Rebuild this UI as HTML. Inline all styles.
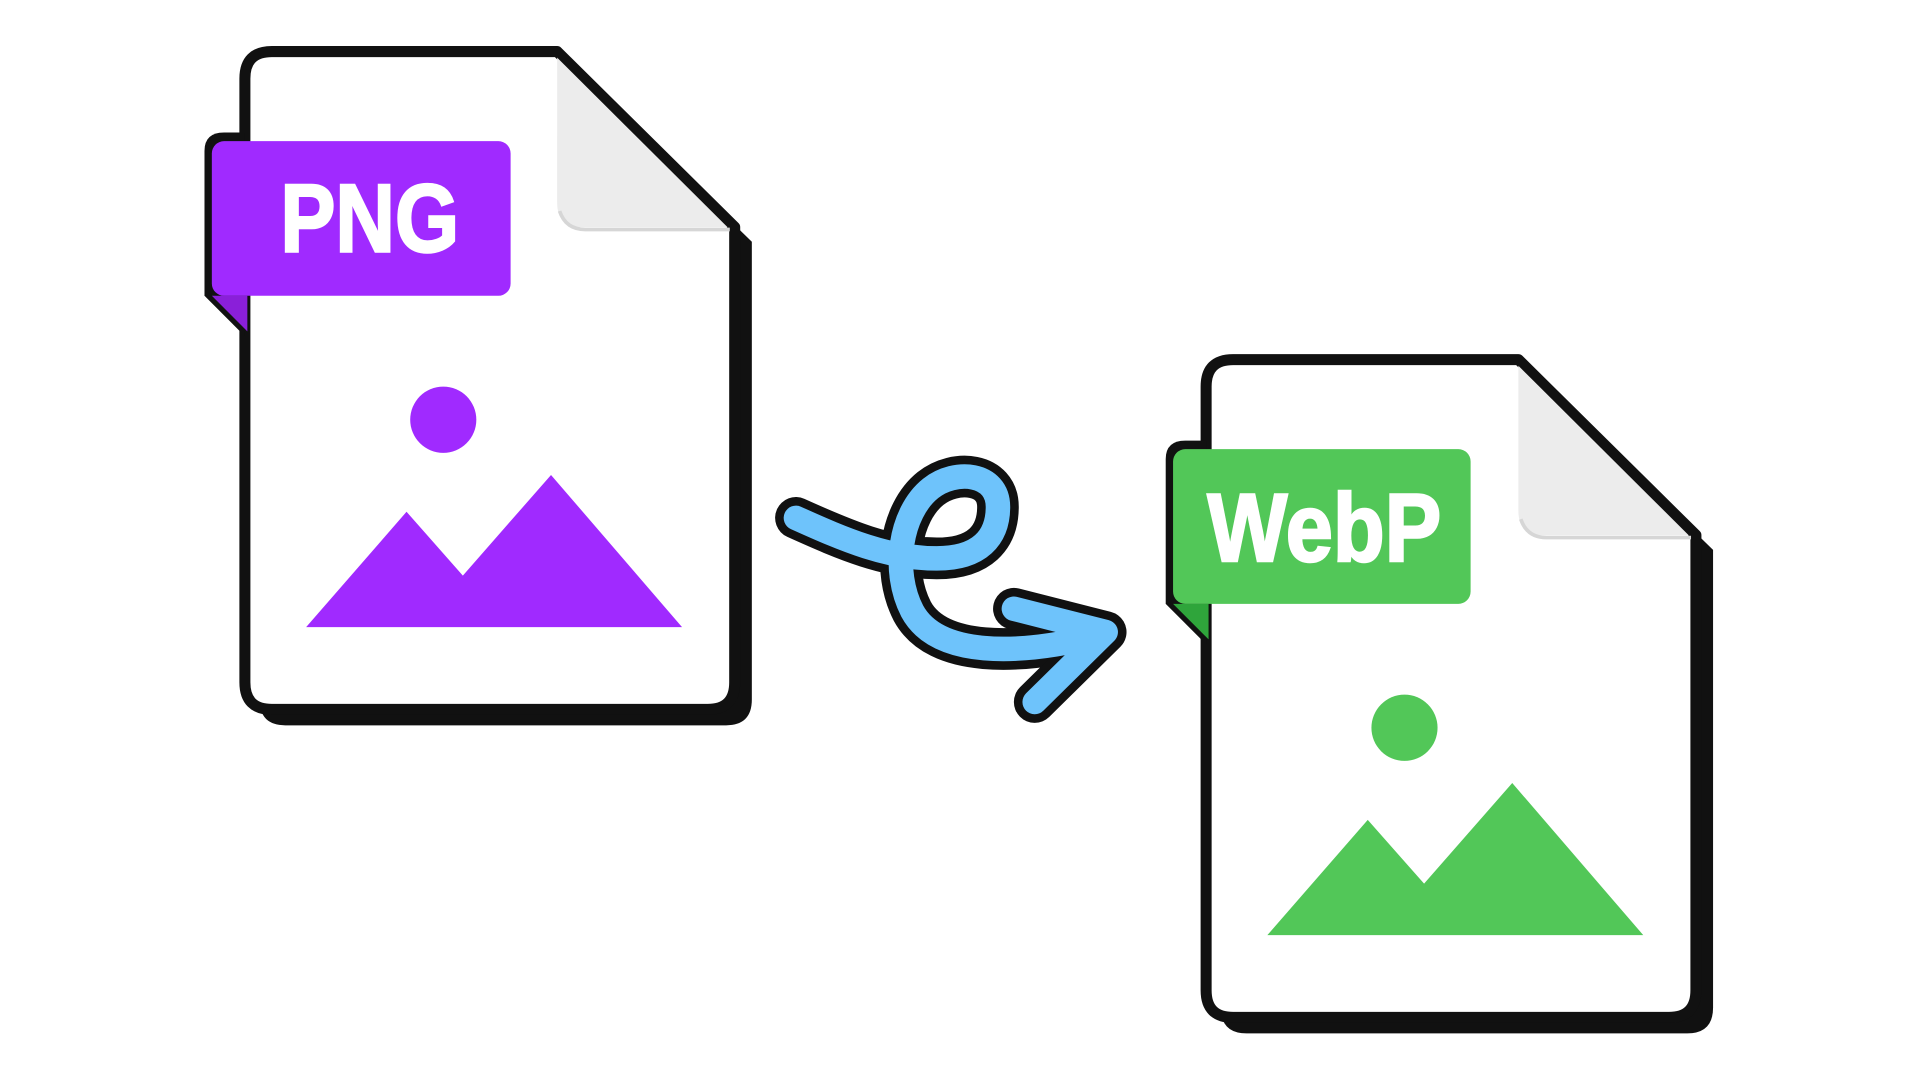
<!DOCTYPE html>
<html><head><meta charset="utf-8"><style>
html,body{margin:0;padding:0;background:#fff;width:1920px;height:1080px;overflow:hidden}
svg{display:block}
</style></head><body>
<svg width="1920" height="1080" viewBox="0 0 1568 880" preserveAspectRatio="none" xmlns="http://www.w3.org/2000/svg">
<defs>
<g id="doc">
  <path d="M212,54 L467,54 L614,197 L614,570 Q614,591 593,591 L233,591 Q212,591 212,570 Z" fill="#111"/>
  <path d="M222,42 L455,42 L600,185 L600,556 Q600,578 578,578 L222,578 Q200,578 200,556 L200,64 Q200,42 222,42 Z" fill="#fff" stroke="#111" stroke-width="9" stroke-linejoin="round"/>
  <path d="M455,47 L594,185 L475,185 Q455,185 455,165 Z" fill="#ececec"/>
  <path d="M457,172 Q462,187 478,187 L596,187" fill="none" stroke="#d6d6d6" stroke-width="3"/>
  <path d="M183,108 L200,108 L200,274 L167,241 L167,123 Q167,108 183,108 Z" fill="#111"/>
</g>
</defs>

<use href="#doc"/>
<path d="M173,241 L202,241 L202,270 Z" fill="#8a1fd9"/>
<rect x="173" y="115" width="244" height="126" rx="10" fill="#a02aff"/>
<text x="229" y="205" textLength="146" lengthAdjust="spacingAndGlyphs" font-family="Liberation Sans, sans-serif" font-weight="bold" font-size="79" fill="#fff" stroke="#fff" stroke-width="2">PNG</text>
<circle cx="362" cy="342" r="27" fill="#a02aff"/>
<polygon points="250,511 332,417 378,469 450,387 557,511" fill="#a02aff"/>

<g transform="translate(785,251)"><use href="#doc"/></g>
<path d="M958,492 L987,492 L987,521 Z" fill="#2fa53b"/>
<rect x="958" y="366" width="243" height="126" rx="10" fill="#52c758"/>
<text x="986" y="457" textLength="191" lengthAdjust="spacingAndGlyphs" font-family="Liberation Sans, sans-serif" font-weight="bold" font-size="79" fill="#fff" stroke="#fff" stroke-width="2">WebP</text>
<circle cx="1147" cy="593" r="27" fill="#52c758"/>
<polygon points="1035,762 1117,668 1163,720 1235,638 1342,762" fill="#52c758"/>

<g fill="none" stroke-linecap="round" stroke-linejoin="round">
  <path d="M650,422 C690,440 725,455 765,455 C800,455 815,438 815,413 C815,385 780,382 760,398 C735,418 728,465 745,498 C765,535 830,535 900,517" stroke="#111" stroke-width="34"/>
  <path d="M828,496 L903,515 L845,572" stroke="#111" stroke-width="34"/>
  <path d="M650,422 C690,440 725,455 765,455 C800,455 815,438 815,413 C815,385 780,382 760,398 C735,418 728,465 745,498 C765,535 830,535 900,517" stroke="#6ec3fb" stroke-width="20"/>
  <path d="M828,496 L903,515 L845,572" stroke="#6ec3fb" stroke-width="20"/>
</g>
</svg>
</body></html>
